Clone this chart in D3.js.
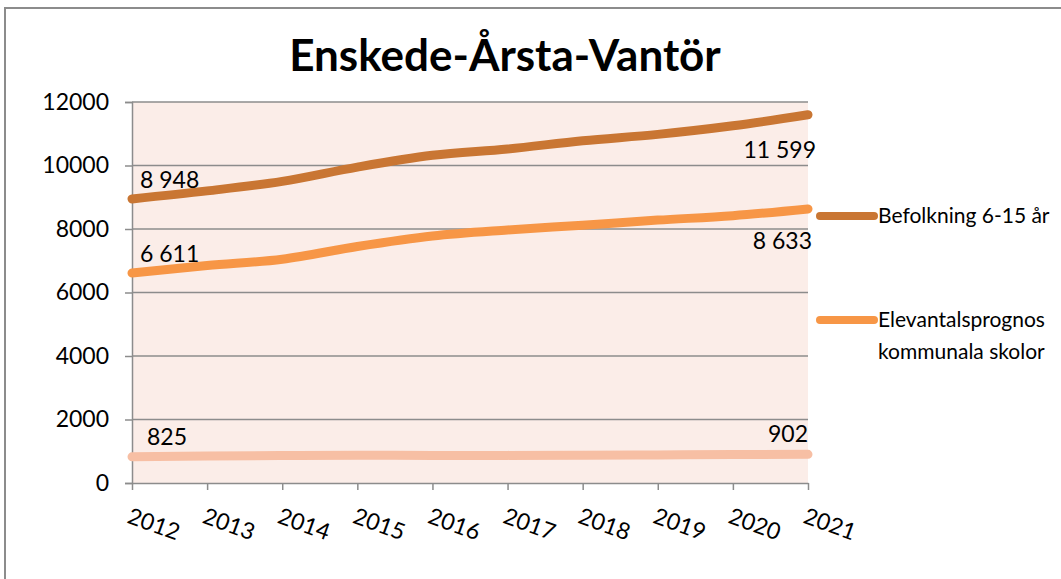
<!DOCTYPE html>
<html>
<head>
<meta charset="utf-8">
<script src="https://cdn.jsdelivr.net/npm/d3@7"></script>
<style>
  body { margin: 0; background: #fff; }
  text { font-family: Lato, "Open Sans", sans-serif; fill: #000; }
</style>
</head>
<body>
<svg width="1061" height="579"></svg>
<script>
// data
var years = [2012, 2013, 2014, 2015, 2016, 2017, 2018, 2019, 2020, 2021];
var befolkning = [8948, 9200, 9500, 9950, 10320, 10520, 10780, 10980, 11250, 11599];
var elevantal = [6611, 6850, 7050, 7450, 7780, 7970, 8120, 8280, 8420, 8633];
var ovriga = [825, 850, 865, 875, 870, 870, 875, 885, 895, 902];
var yTicks = [0, 2000, 4000, 6000, 8000, 10000, 12000];

var svg = d3.select("svg");

var margin = { top: 102, left: 132, right: 253, bottom: 96 };
var w = 1061, h = 579;
var width = w - margin.left - margin.right;
var height = h - margin.top - margin.bottom;

// chart border
svg.append("rect")
  .attr("x", 5).attr("y", 8)
  .attr("width", 1080).attr("height", 600)
  .attr("fill", "#fff")
  .attr("stroke", "#8c8c8c")
  .attr("stroke-width", 2);

svg.append("text")
  .attr("x", 505).attr("y", 71)
  .attr("text-anchor", "middle")
  .style("font-size", "44px")
  .style("font-weight", "bold")
  .text("Enskede-Årsta-Vantör");

var x = d3.scalePoint().domain(years).range([0, width]);
var y = d3.scaleLinear().domain([0, 12000]).range([height, 0]);

var chart = svg.append("g")
  .attr("transform", "translate(" + margin.left + "," + margin.top + ")");

chart.append("rect")
  .attr("width", width).attr("height", height)
  .attr("fill", "#fbede8");

// gridlines
chart.selectAll(".grid")
  .data(yTicks.slice(1))
  .enter().append("line")
  .attr("x1", 0).attr("x2", width)
  .attr("y1", function(d) { return y(d); })
  .attr("y2", function(d) { return y(d); })
  .attr("stroke", "#8c8c8c")
  .attr("stroke-width", 1.5);

// y axis
var yAxis = chart.append("g")
  .call(d3.axisLeft(y).tickValues(yTicks).tickSize(7).tickPadding(16).tickFormat(d3.format("d")));
yAxis.select(".domain").attr("stroke", "#8c8c8c").attr("stroke-width", 1.5);
yAxis.selectAll(".tick line").attr("stroke", "#8c8c8c").attr("stroke-width", 1.5);
yAxis.selectAll("text").style("font-size", "23px").attr("fill", "#000");

// x axis
var xAxis = chart.append("g")
  .attr("transform", "translate(0," + height + ")")
  .call(d3.axisBottom(x).tickSize(7).tickSizeOuter(0));
xAxis.select(".domain").attr("stroke", "#8c8c8c").attr("stroke-width", 1.5);
xAxis.selectAll(".tick line").attr("stroke", "#8c8c8c").attr("stroke-width", 1.5);
xAxis.selectAll("text")
  .style("font-size", "23px")
  .attr("fill", "#000")
  .attr("text-anchor", "start")
  .attr("dy", null)
  .attr("transform", "translate(-3,30) rotate(20)");

// lines
var line = d3.line()
  .x(function(d, i) { return x(years[i]); })
  .y(function(d) { return y(d); })
  .curve(d3.curveMonotoneX);

var series = [
  { values: ovriga, color: "#f7bfa4" },
  { values: elevantal, color: "#f79646" },
  { values: befolkning, color: "#c97633" }
];

chart.selectAll(".series")
  .data(series)
  .enter().append("path")
  .attr("d", function(d) { return line(d.values); })
  .attr("fill", "none")
  .attr("stroke", function(d) { return d.color; })
  .attr("stroke-width", 9)
  .attr("stroke-linecap", "round");

// data labels
var fmt = function(v) { return d3.format(",")(v).replace(",", " "); };
var labels = [
  { v: befolkning[0], i: 0, dx: 8, dy: -11, anchor: "start" },
  { v: befolkning[9], i: 9, dx: 8, dy: 43, anchor: "end" },
  { v: elevantal[0], i: 0, dx: 8, dy: -11, anchor: "start" },
  { v: elevantal[9], i: 9, dx: 4, dy: 40, anchor: "end" },
  { v: ovriga[0], i: 0, dx: 15, dy: -12, anchor: "start" },
  { v: ovriga[9], i: 9, dx: 0, dy: -12, anchor: "end" }
];
chart.selectAll(".dlabel")
  .data(labels)
  .enter().append("text")
  .attr("x", function(d) { return x(years[d.i]) + d.dx; })
  .attr("y", function(d) { return y(d.v) + d.dy; })
  .attr("text-anchor", function(d) { return d.anchor; })
  .style("font-size", "23px")
  .text(function(d) { return fmt(d.v); });

// legend
var legend = [
  { name: ["Befolkning 6-15 år"], color: "#c97633", y: 216 },
  { name: ["Elevantalsprognos", "kommunala skolor"], color: "#f79646", y: 320 }
];
var lg = svg.selectAll(".legend")
  .data(legend)
  .enter().append("g")
  .attr("transform", function(d) { return "translate(820," + d.y + ")"; });
lg.append("line")
  .attr("x1", 0).attr("x2", 54)
  .attr("stroke", function(d) { return d.color; })
  .attr("stroke-width", 8)
  .attr("stroke-linecap", "round");
lg.each(function(d) {
  var g = d3.select(this);
  d.name.forEach(function(s, k) {
    g.append("text")
      .attr("x", 58).attr("y", 7 + k * 32)
      .style("font-size", "21px")
      .text(s);
  });
});
</script>
</body>
</html>
